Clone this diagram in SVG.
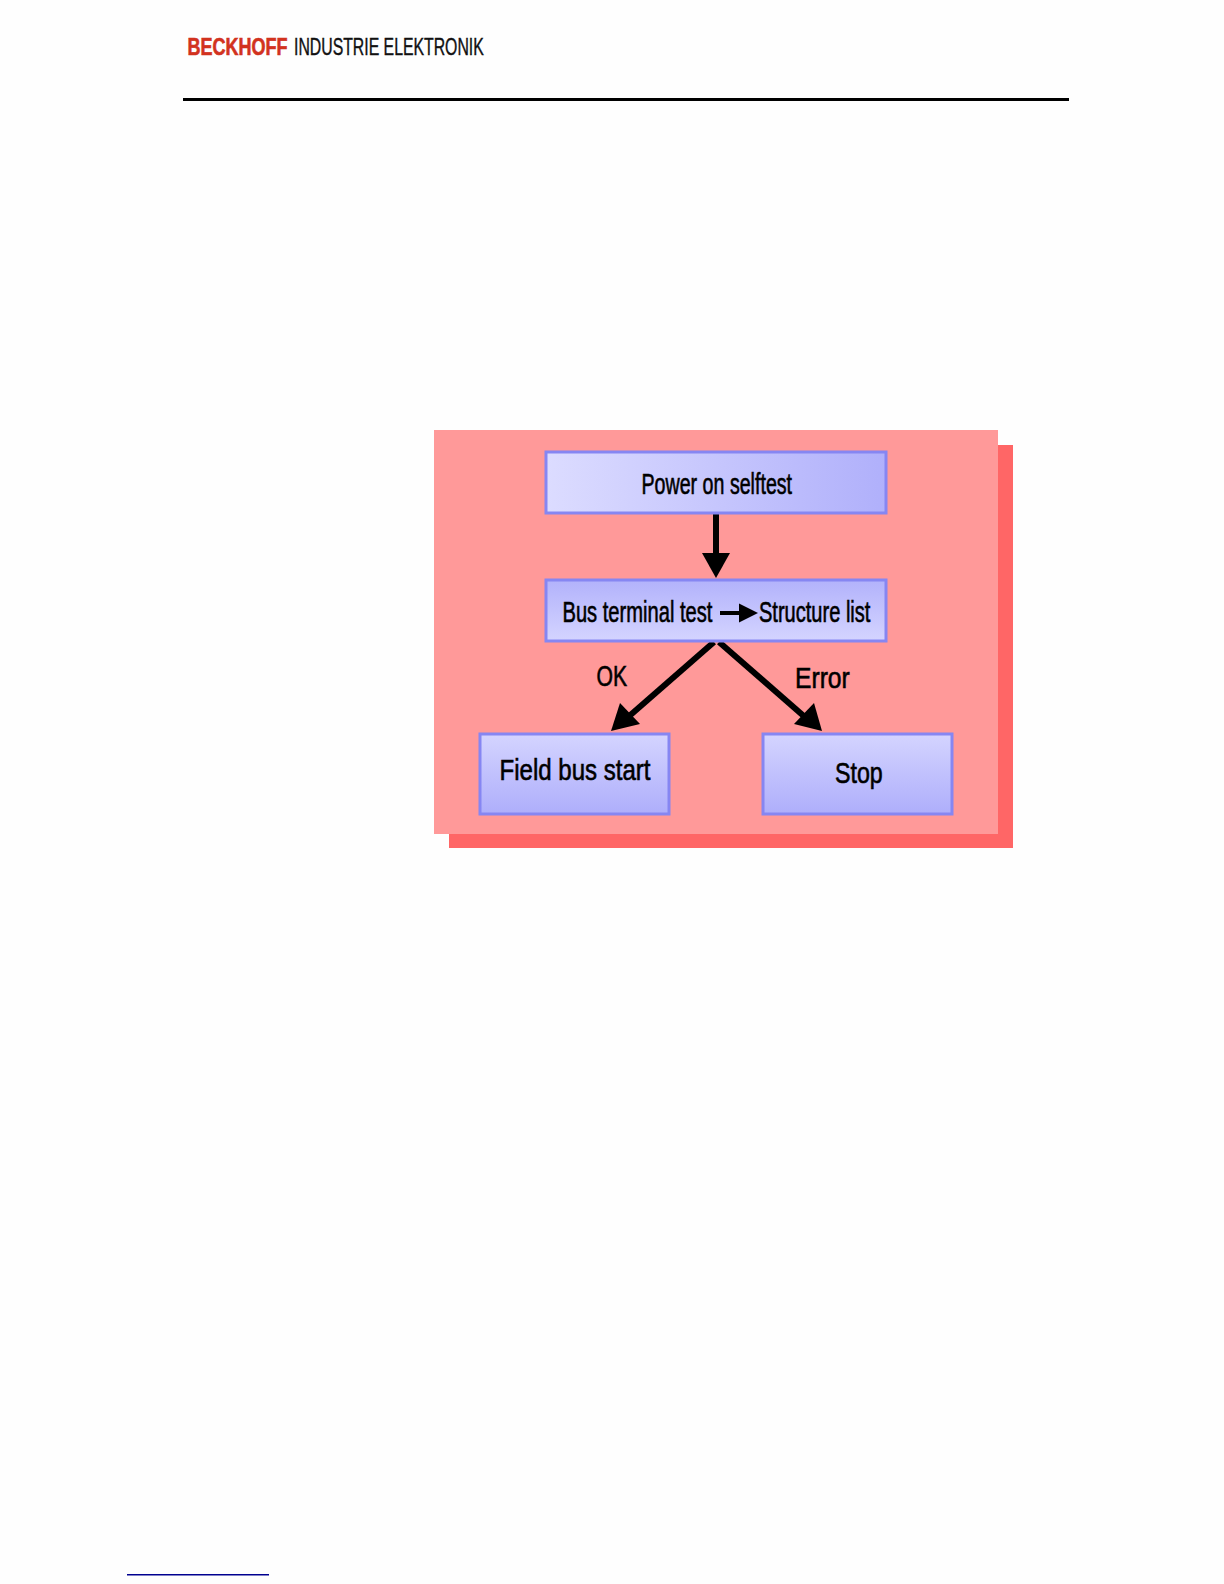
<svg xmlns="http://www.w3.org/2000/svg" width="1224" height="1584" viewBox="0 0 1224 1584">
<defs>
<linearGradient id="gh" x1="0" y1="0" x2="1" y2="0"><stop offset="0" stop-color="#dcdcff"/><stop offset="1" stop-color="#b0b0fb"/></linearGradient>
<linearGradient id="gu" x1="0" y1="0" x2="0" y2="1"><stop offset="0" stop-color="#b2b2fb"/><stop offset="1" stop-color="#d4d4ff"/></linearGradient>
<linearGradient id="gd" x1="0" y1="0" x2="0" y2="1"><stop offset="0" stop-color="#d4d4ff"/><stop offset="1" stop-color="#aeaefb"/></linearGradient>
</defs>
<style>
.box{stroke:#8686f2;stroke-width:3}
.t{font-family:"Liberation Sans",Arial,sans-serif;fill:#000;font-size:29px;stroke:#000;stroke-width:0.6px}
.conn{stroke:#000;stroke-width:6;fill:none}
.head{fill:#000;stroke:none}
</style>
<rect width="1224" height="1584" fill="#fefefe"/>
<g id="header">
<text transform="translate(187.500 54.500) scale(.82 1)" textLength="122" lengthAdjust="spacingAndGlyphs" style="font-family:'Liberation Sans',Arial,sans-serif;font-weight:bold;font-size:23px;fill:#d2321e;stroke:#d2321e;stroke-width:.6px">BECKHOFF</text>
<text transform="translate(294 54.500) scale(.69 1)" textLength="275" lengthAdjust="spacingAndGlyphs" style="font-family:'Liberation Sans',Arial,sans-serif;font-size:23px;fill:#111;stroke:#111;stroke-width:.4px">INDUSTRIE ELEKTRONIK</text>
<rect x="183" y="98" width="886" height="3" fill="#000"/>
</g>
<g id="panel">
<rect x="449" y="445" width="564" height="403" fill="#ff6666"/>
<rect x="434" y="430" width="564" height="404" fill="#ff9999"/>
</g>
<g id="connectors">
<line class="conn" x1="716" y1="514" x2="716" y2="556"/>
<polygon class="head" points="702,553 730,553 716,578"/>
<line class="conn" x1="714" y1="642" x2="627" y2="718"/>
<polygon class="head" points="611,731 620,703 640,724"/>
<line class="conn" x1="719" y1="642" x2="806" y2="718"/>
<polygon class="head" points="822,731 794,724 814,703"/>
</g>
<g id="node-power">
<rect class="box" x="546" y="452" width="340" height="61" fill="url(#gh)"/>
<text class="t" transform="translate(641.500 494) scale(.677 1)" textLength="222.400" lengthAdjust="spacingAndGlyphs">Power on selftest</text>
</g>
<g id="node-bus">
<rect class="box" x="546" y="580" width="340" height="61" fill="url(#gu)"/>
<text class="t" transform="translate(562.500 622) scale(.694 1)" textLength="216" lengthAdjust="spacingAndGlyphs">Bus terminal test</text>
<line x1="720" y1="613" x2="742" y2="613" stroke="#000" stroke-width="4"/>
<polygon class="head" points="739,603.500 758,613 739,622.500"/>
<text class="t" transform="translate(759 622) scale(.692 1)" textLength="161" lengthAdjust="spacingAndGlyphs">Structure list</text>
</g>
<g id="node-field">
<rect class="box" x="480" y="734" width="189" height="80" fill="url(#gd)"/>
<text class="t" transform="translate(499.500 780) scale(.83 1)" textLength="182" lengthAdjust="spacingAndGlyphs">Field bus start</text>
</g>
<g id="node-stop">
<rect class="box" x="763" y="734" width="189" height="80" fill="url(#gd)"/>
<text class="t" transform="translate(835 783) scale(.8 1)" textLength="59.650" lengthAdjust="spacingAndGlyphs">Stop</text>
</g>
<g id="labels">
<text class="t" transform="translate(596.500 686) scale(.73 1)" textLength="41.900" lengthAdjust="spacingAndGlyphs">OK</text>
<text class="t" transform="translate(795 688) scale(.85 1)" textLength="64.400" lengthAdjust="spacingAndGlyphs">Error</text>
</g>
<rect id="footer-rule" x="127" y="1574" width="142" height="1.500" fill="#000090"/>
</svg>
